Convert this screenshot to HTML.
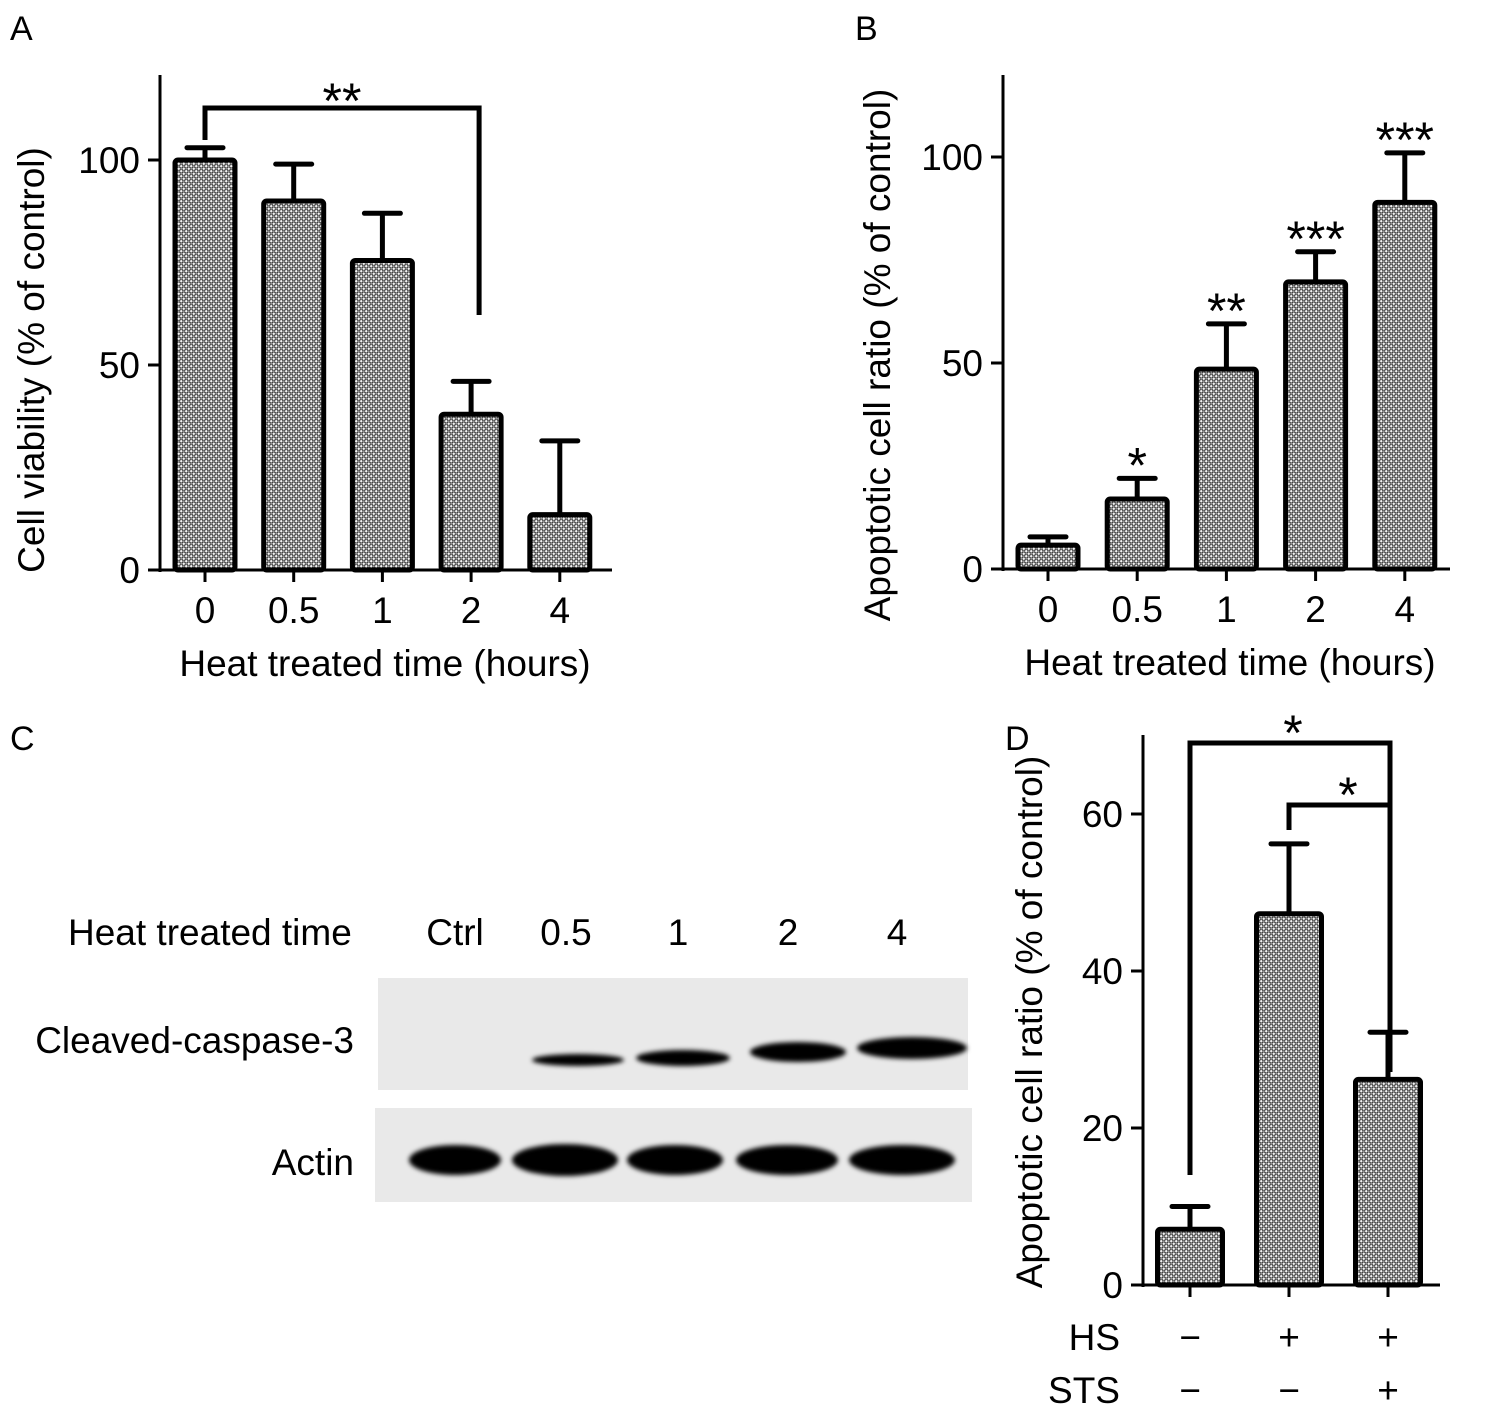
<!DOCTYPE html>
<html><head><meta charset="utf-8"><style>
body{margin:0;background:#fff}
svg{display:block;font-family:"Liberation Sans",Arial,sans-serif}
</style></head><body>
<svg id="fig" width="1488" height="1414" viewBox="0 0 1488 1414">
<defs>
<pattern id="dots" width="5" height="5" patternUnits="userSpaceOnUse">
<rect width="5" height="5" fill="#333"/>
<circle cx="1.25" cy="1.25" r="1.2" fill="#f4f4f4"/>
<circle cx="3.75" cy="3.75" r="1.2" fill="#f4f4f4"/>
<circle cx="3.75" cy="1.25" r="1.0" fill="#999"/>
<circle cx="1.25" cy="3.75" r="1.0" fill="#999"/>
</pattern>
<filter id="blur"><feGaussianBlur stdDeviation="2.5"/></filter>
</defs>
<g id="layer"></g>
<text x="10" y="40" font-size="34">A</text>
<text x="855" y="40" font-size="34">B</text>
<text x="10" y="750" font-size="34">C</text>
<text x="1005" y="750" font-size="34">D</text>

<g>
<text x="68" y="945" font-size="37">Heat treated time</text>
<text x="455" y="945" font-size="37" text-anchor="middle">Ctrl</text>
<text x="566" y="945" font-size="37" text-anchor="middle">0.5</text>
<text x="678" y="945" font-size="37" text-anchor="middle">1</text>
<text x="788" y="945" font-size="37" text-anchor="middle">2</text>
<text x="897" y="945" font-size="37" text-anchor="middle">4</text>
<text x="354" y="1053" font-size="37" text-anchor="end">Cleaved-caspase-3</text>
<text x="354" y="1175" font-size="37" text-anchor="end">Actin</text>
<rect x="378" y="978" width="590" height="112" fill="#e9e9e9"/>
<rect x="375" y="1108" width="597" height="94" fill="#e9e9e9"/>
<g filter="url(#blur)" fill="#000">
<ellipse cx="578" cy="1060" rx="46" ry="6"/>
<ellipse cx="683" cy="1058" rx="47" ry="8"/>
<ellipse cx="798" cy="1052" rx="48" ry="10"/>
<ellipse cx="912" cy="1048" rx="55" ry="11"/>
<ellipse cx="455" cy="1160" rx="46" ry="15"/>
<ellipse cx="565" cy="1160" rx="53" ry="16"/>
<ellipse cx="675" cy="1160" rx="48" ry="15"/>
<ellipse cx="787" cy="1160" rx="51" ry="15"/>
<ellipse cx="902" cy="1160" rx="53" ry="15"/>
</g>
</g>
</svg>
<script>
// Panel A data
const aCats = ["0","0.5","1","2","4"];
const aVals = [100, 90, 75.5, 38, 13.5];
const aErr  = [3, 9, 11.5, 8, 18];
const aTicks = [0, 50, 100];
// Panel B data
const bCats = ["0","0.5","1","2","4"];
const bVals = [5.8, 17, 48.5, 69.7, 89];
const bErr  = [2, 5, 11, 7.3, 12];
const bStars = ["", "*", "**", "***", "***"];
const bTicks = [0, 50, 100];
// Panel D data
const dCats = ["HS-STS-", "HS+STS-", "HS+STS+"];
const dVals = [7.1, 47.3, 26.2];
const dErr  = [2.9, 8.9, 6];
const dTicks = [0, 20, 40, 60];

const NS = "http://www.w3.org/2000/svg";
const layer = document.getElementById('layer');
const FS = 37;
function mk(tag, attrs, parent){
  const e = document.createElementNS(NS, tag);
  for (const k in attrs) e.setAttribute(k, attrs[k]);
  (parent||layer).appendChild(e); return e;
}
function txt(x,y,s,size,anchor,parent,rot){
  const t = mk('text',{x:x,y:y,'font-size':size,'text-anchor':anchor||'middle'},parent);
  if(rot) t.setAttribute('transform',`rotate(-90 ${x} ${y})`);
  t.textContent = s; return t;
}
function chart(o){
  const g = mk('g',{});
  
  
  const y = v => o.y0 - (v - 0) * (o.y0 - o.y1) / o.vmax;
  const x = i => o.xs0 + i * o.step;
  const ya = mk('line',{x1:o.ax,y1:o.ytop,x2:o.ax,y2:o.y0+2,stroke:'#000','stroke-width':3},g);
  
  
  const xa = mk('line',{x1:o.ax,y1:o.y0,x2:o.xend,y2:o.y0,stroke:'#000','stroke-width':3},g);
  
  
  o.ticks.forEach(t=>{
    mk('line',{x1:o.ax-12,y1:y(t),x2:o.ax,y2:y(t),stroke:'#000','stroke-width':3},g);
    const tl = txt(o.ax-20, y(t)+13, String(t), FS, 'end', g);
    
    
  });
  o.vals.forEach((v,i)=>{
    const cx = x(i);
    mk('line',{x1:cx,y1:o.y0,x2:cx,y2:o.y0+12,stroke:'#000','stroke-width':3},g);
    const top = y(v+o.err[i]);
    const eb = mk('line',{x1:cx,y1:y(v),x2:cx,y2:top,stroke:'#000','stroke-width':5},g);
    
    
    mk('line',{x1:cx-18,y1:top,x2:cx+18,y2:top,stroke:'#000','stroke-width':5,'stroke-linecap':'round'},g);
    const b = mk('rect',{x:cx-o.bw/2,y:y(v),width:o.bw,height:o.y0-y(v),fill:'url(#dots)',stroke:'#000','stroke-width':5,rx:3},g);
    
    
    if(o.cats){
      const cl = txt(cx, o.y0+53, o.cats[i], FS, 'middle', g);
      
      
    }
    if(o.stars && o.stars[i]){
      const s = txt(cx, top+4, o.stars[i], 50, 'middle', g);
      
      
    }
  });
  if(o.xtitle){
    const xt = txt(o.xtx, o.y0+106, o.xtitle, FS, 'middle', g);
    
    
  }
  const yt = txt(o.ytx, o.yty, o.ytitle, FS, 'middle', g, true);
  
  
  return {g, x, y};
}
const A = chart({name:'panel-a', vals:aVals, err:aErr, cats:aCats, ticks:aTicks, ax:160, ytop:75, y0:570, y1:160, vmax:100, xend:612, xs0:205, step:88.7, bw:60, xtitle:'Heat treated time (hours)', xtx:385, ytitle:'Cell viability (% of control)', ytx:44, yty:360});
const B = chart({name:'panel-b', vals:bVals, err:bErr, cats:bCats, stars:bStars, ticks:bTicks, ax:1003, ytop:75, y0:569, y1:157, vmax:100, xend:1450, xs0:1048, step:89.2, bw:60, xtitle:'Heat treated time (hours)', xtx:1230, ytitle:'Apoptotic cell ratio (% of control)', ytx:890, yty:355});
const D = chart({name:'panel-d', vals:dVals, err:dErr, ticks:dTicks, ax:1143, ytop:735, y0:1285, y1:814, vmax:60, xend:1440, xs0:1190, step:99, bw:65, ytitle:'Apoptotic cell ratio (% of control)', ytx:1042, yty:1022});

const brA = mk('polyline',{points:`${A.x(0)},140 ${A.x(0)},108 ${A.x(3)+8},108 ${A.x(3)+8},315`,fill:'none',stroke:'#000','stroke-width':5},A.g);


const sA = txt(342, 118, '**', 50, 'middle', A.g);



const br1 = mk('polyline',{points:`${D.x(0)},1175 ${D.x(0)},743 ${D.x(2)+2},743 ${D.x(2)+2},1072`,fill:'none',stroke:'#000','stroke-width':5},D.g);


const br2 = mk('polyline',{points:`${D.x(1)},830 ${D.x(1)},805 ${D.x(2)+2},805`,fill:'none',stroke:'#000','stroke-width':5},D.g);


const s1 = txt(1293, 750, '*', 50, 'middle', D.g);


const s2 = txt(1348, 812, '*', 50, 'middle', D.g);


const hs = ['−','+','+'], sts = ['−','−','+'];
const hl = txt(1120, 1350, 'HS', FS, 'end', D.g);


const sl = txt(1120, 1403, 'STS', FS, 'end', D.g);


dCats.forEach((c,i)=>{
  const a = txt(D.x(i), 1350, hs[i], FS, 'middle', D.g);
  
  
  const b = txt(D.x(i), 1403, sts[i], FS, 'middle', D.g);
  
  
});
</script>
</body></html>
